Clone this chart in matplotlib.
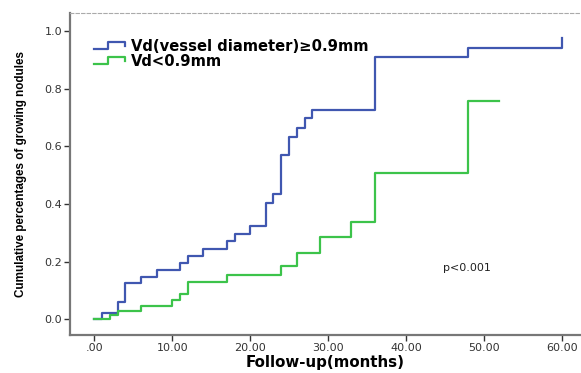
import matplotlib
matplotlib.use("Agg")
import matplotlib.pyplot as plt
from matplotlib.legend_handler import HandlerBase
from matplotlib.lines import Line2D

# Data
blue_t = [0, 1, 3, 4, 6, 8, 11, 12, 14, 17, 18, 20, 22, 23, 24, 25, 26, 27, 28, 36, 48, 60]
blue_p = [0, 0.021, 0.061, 0.125, 0.146, 0.171, 0.194, 0.219, 0.245, 0.271, 0.296, 0.323,
          0.405, 0.434, 0.569, 0.633, 0.665, 0.697, 0.725, 0.910, 0.941, 0.974]
green_t = [0, 2, 3, 6, 10, 11, 12, 17, 24, 26, 29, 33, 36, 48, 52]
green_p = [0, 0.015, 0.030, 0.047, 0.067, 0.088, 0.128, 0.153, 0.186, 0.231, 0.284,
           0.338, 0.506, 0.757, 0.757]
labels = ["Vd(vessel diameter)\u22650.9mm", "Vd<0.9mm"]
xticks = [0, 10, 20, 30, 40, 50, 60]
xticklabels = [".00", "10.00", "20.00", "30.00", "40.00", "50.00", "60.00"]
yticks = [0.0, 0.2, 0.4, 0.6, 0.8, 1.0]
yticklabels = ["0.0", "0.2", "0.4", "0.6", "0.8", "1.0"]

BLUE = "#4057b0"
GREEN = "#3cc34a"


class StepHandler(HandlerBase):
    def create_artists(self, legend, orig_handle, xdescent, ydescent, width, height,
                       fontsize, trans):
        w, h = width, height
        xs = [-xdescent, -xdescent + w * 0.45, -xdescent + w * 0.45, -xdescent + w,
              -xdescent + w]
        ys = [h * 0.2, h * 0.2, h * 0.85, h * 0.85, h * 0.5]
        ln = Line2D(xs, ys, color=orig_handle.get_color(),
                    linewidth=orig_handle.get_linewidth())
        ln.set_transform(trans)
        return [ln]


fig = plt.figure(figsize=(5.81, 3.73), dpi=100)
ax = fig.add_axes([0.1205, 0.1019, 0.8795, 0.8631])

l1, = ax.step(blue_t, blue_p, where="post", color=BLUE, linewidth=1.6)
l2, = ax.step(green_t, green_p, where="post", color=GREEN, linewidth=1.6)

ax.set_xlim(-3.12, 62.48)
ax.set_ylim(-0.054, 1.062)

ax.set_xticks(xticks)
ax.set_xticklabels(xticklabels, fontsize=8, color="#333333")
ax.set_yticks(yticks)
ax.set_yticklabels(yticklabels, fontsize=8, color="#333333")
ax.tick_params(direction="out", length=4, width=1, color="#333333", pad=1.5)

for s in ["left", "bottom"]:
    ax.spines[s].set_color("#777777")
    ax.spines[s].set_linewidth(1.6)
ax.spines["top"].set_color("#aaaaaa")
ax.spines["top"].set_linestyle((0, (3, 2)))
ax.spines["top"].set_linewidth(0.8)
ax.spines["right"].set_visible(False)

ax.set_xlabel("Follow-up(months)", fontsize=10.8, fontweight="bold", labelpad=2)
ax.set_ylabel("Cumulative percentages of growing nodules", fontsize=8.4,
              fontweight="bold", family="Liberation Sans", labelpad=13)

ax.text(47.8, 0.178, "p<0.001", fontsize=8, ha="center", va="center", color="#222222")

leg = ax.legend([l1, l2], labels, loc="upper left", bbox_to_anchor=(0.035, 0.937),
                frameon=False, handler_map={Line2D: StepHandler()},
                prop={"weight": "bold", "size": 10.6}, handlelength=2.1,
                handletextpad=0.4, labelspacing=0.0, borderaxespad=0)

fig.savefig("out.png", dpi=100)
